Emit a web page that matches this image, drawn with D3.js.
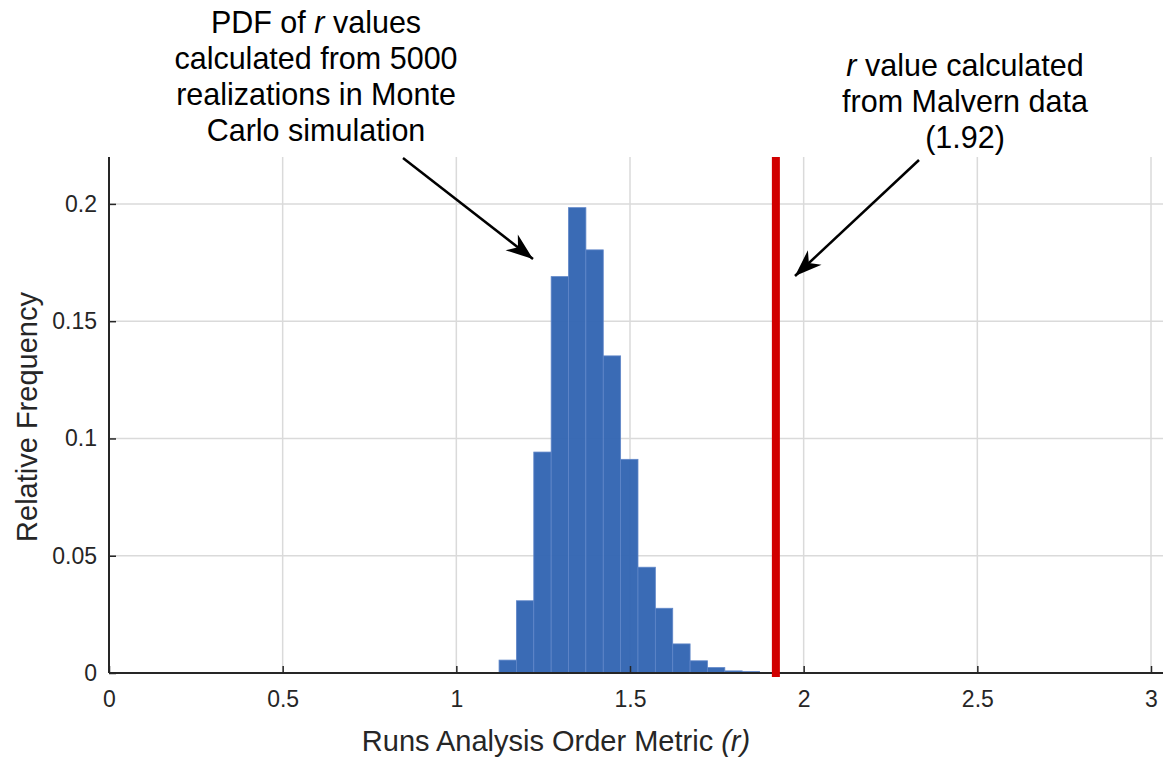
<!DOCTYPE html>
<html>
<head>
<meta charset="utf-8">
<script src="https://cdn.jsdelivr.net/npm/d3@7"></script>
<style>
  body { margin: 0; background: #fff; }
  svg text { font-family: "Liberation Sans", Arial, Helvetica, sans-serif; fill: #262626; }
</style>
</head>
<body>
<svg width="1163" height="757"></svg>
<script>
// histogram bins (left edges, width 0.05) and relative frequencies
var binLo = [1.123, 1.173, 1.223, 1.273, 1.323, 1.373, 1.423, 1.473, 1.523, 1.573, 1.623, 1.673, 1.723, 1.773, 1.823];
var binWidth = 0.05;
var relFreq = [0.0055, 0.0308, 0.0942, 0.1690, 0.1984, 0.1804, 0.1352, 0.0911, 0.0451, 0.0276, 0.0124, 0.0052, 0.0023, 0.0009, 0.0006];
var malvernR = 1.92;
var xTicks = [0, 0.5, 1, 1.5, 2, 2.5, 3];
var yTicks = [0, 0.05, 0.1, 0.15, 0.2];

var svg = d3.select("svg");
var m = {left: 109, right: 1151, top: 157, bottom: 673};

var x = d3.scaleLinear().domain([0, 3]).range([m.left, m.right]);
var y = d3.scaleLinear().domain([0, 0.22]).range([m.bottom, m.top]);
var xEnd = 1163;

// grid
var grid = svg.append("g");
grid.selectAll(".gx").data(xTicks).enter().append("line")
  .attr("x1", d => x(d)).attr("x2", d => x(d))
  .attr("y1", m.top).attr("y2", m.bottom)
  .attr("stroke", "#dadada").attr("stroke-width", 1.5);
grid.selectAll(".gy").data(yTicks.filter(d => d > 0)).enter().append("line")
  .attr("x1", m.left).attr("x2", xEnd)
  .attr("y1", d => y(d)).attr("y2", d => y(d))
  .attr("stroke", "#dadada").attr("stroke-width", 1.5);

// bars
svg.append("g").selectAll("rect").data(relFreq).enter().append("rect")
  .attr("x", (d, i) => x(binLo[i]))
  .attr("width", (d, i) => x(binLo[i] + binWidth) - x(binLo[i]))
  .attr("y", d => y(d))
  .attr("height", d => y(0) - y(d))
  .attr("fill", "#3466b3")
  .attr("fill-opacity", 0.97)
  .attr("stroke", "#5f86c8")
  .attr("stroke-width", 0.8);

// axes (ticks inward, matlab style)
var xAxis = d3.axisBottom(x).tickValues(xTicks).tickSize(-7).tickPadding(18)
  .tickFormat(d => d3.format("")(d));
var xg = svg.append("g").attr("transform", "translate(0," + m.bottom + ")").call(xAxis);
xg.select(".domain").remove();
xg.append("line").attr("x1", m.left).attr("x2", xEnd).attr("y1", 0).attr("y2", 0)
  .attr("stroke", "#262626").attr("stroke-width", 2);

var yAxis = d3.axisLeft(y).tickValues(yTicks).tickSize(-7).tickPadding(12)
  .tickFormat(d => d3.format("")(d));
var yg = svg.append("g").attr("transform", "translate(" + m.left + ",0)").call(yAxis);
yg.select(".domain").remove();
yg.append("line").attr("x1", 0).attr("x2", 0).attr("y1", m.top).attr("y2", m.bottom)
  .attr("stroke", "#262626").attr("stroke-width", 2);

svg.selectAll(".tick line").attr("stroke", "#262626").attr("stroke-width", 1.5);
svg.selectAll(".tick text").attr("font-size", 23)
  .attr("font-family", "'Liberation Sans', Arial, sans-serif").attr("fill", "#262626");
xg.attr("font-size", 23);
yg.attr("font-size", 23);

// red line for Malvern value
svg.append("line")
  .attr("x1", x(malvernR)).attr("x2", x(malvernR))
  .attr("y1", m.top).attr("y2", m.bottom + 4)
  .attr("stroke", "#d10000").attr("stroke-width", 8);

// axis titles
var xt = svg.append("text").attr("x", 556).attr("y", 751)
  .attr("text-anchor", "middle").style("font-size", "29px");
xt.append("tspan").text("Runs Analysis Order Metric ");
xt.append("tspan").style("font-style", "italic").text("(r)");

svg.append("text")
  .attr("transform", "translate(37,417) rotate(-90)")
  .attr("text-anchor", "middle").style("font-size", "29px")
  .text("Relative Frequency");

// annotations
svg.append("defs").append("marker")
  .attr("id", "head").attr("markerUnits", "userSpaceOnUse")
  .attr("viewBox", "-30 -12 32 24").attr("refX", 0).attr("refY", 0)
  .attr("markerWidth", 32).attr("markerHeight", 24).attr("orient", "auto")
  .append("path").attr("d", "M0,0 L-27,-10 L-19,0 L-27,10 Z").attr("fill", "#000");

function note(cx, lines, y0) {
  var t = svg.append("text").attr("text-anchor", "middle").style("font-size", "30.5px").style("fill", "#000");
  lines.forEach(function (ln, i) {
    var row = t.append("tspan").attr("x", cx).attr("y", y0 + i * 36);
    ln.forEach(function (part) {
      row.append("tspan").style("font-style", part[1] ? "italic" : "normal").text(part[0]);
    });
  });
}

note(316, [
  [["PDF of ", 0], ["r", 1], [" values", 0]],
  [["calculated from 5000", 0]],
  [["realizations in Monte", 0]],
  [["Carlo simulation", 0]]
], 33);

note(965, [
  [["r", 1], [" value calculated", 0]],
  [["from Malvern data", 0]],
  [["(1.92)", 0]]
], 76);

svg.append("line").attr("x1", 403).attr("y1", 158).attr("x2", 533).attr("y2", 259)
  .attr("stroke", "#000").attr("stroke-width", 2.5).attr("marker-end", "url(#head)");
svg.append("line").attr("x1", 919).attr("y1", 160).attr("x2", 795).attr("y2", 276)
  .attr("stroke", "#000").attr("stroke-width", 2.5).attr("marker-end", "url(#head)");
</script>
</body>
</html>
